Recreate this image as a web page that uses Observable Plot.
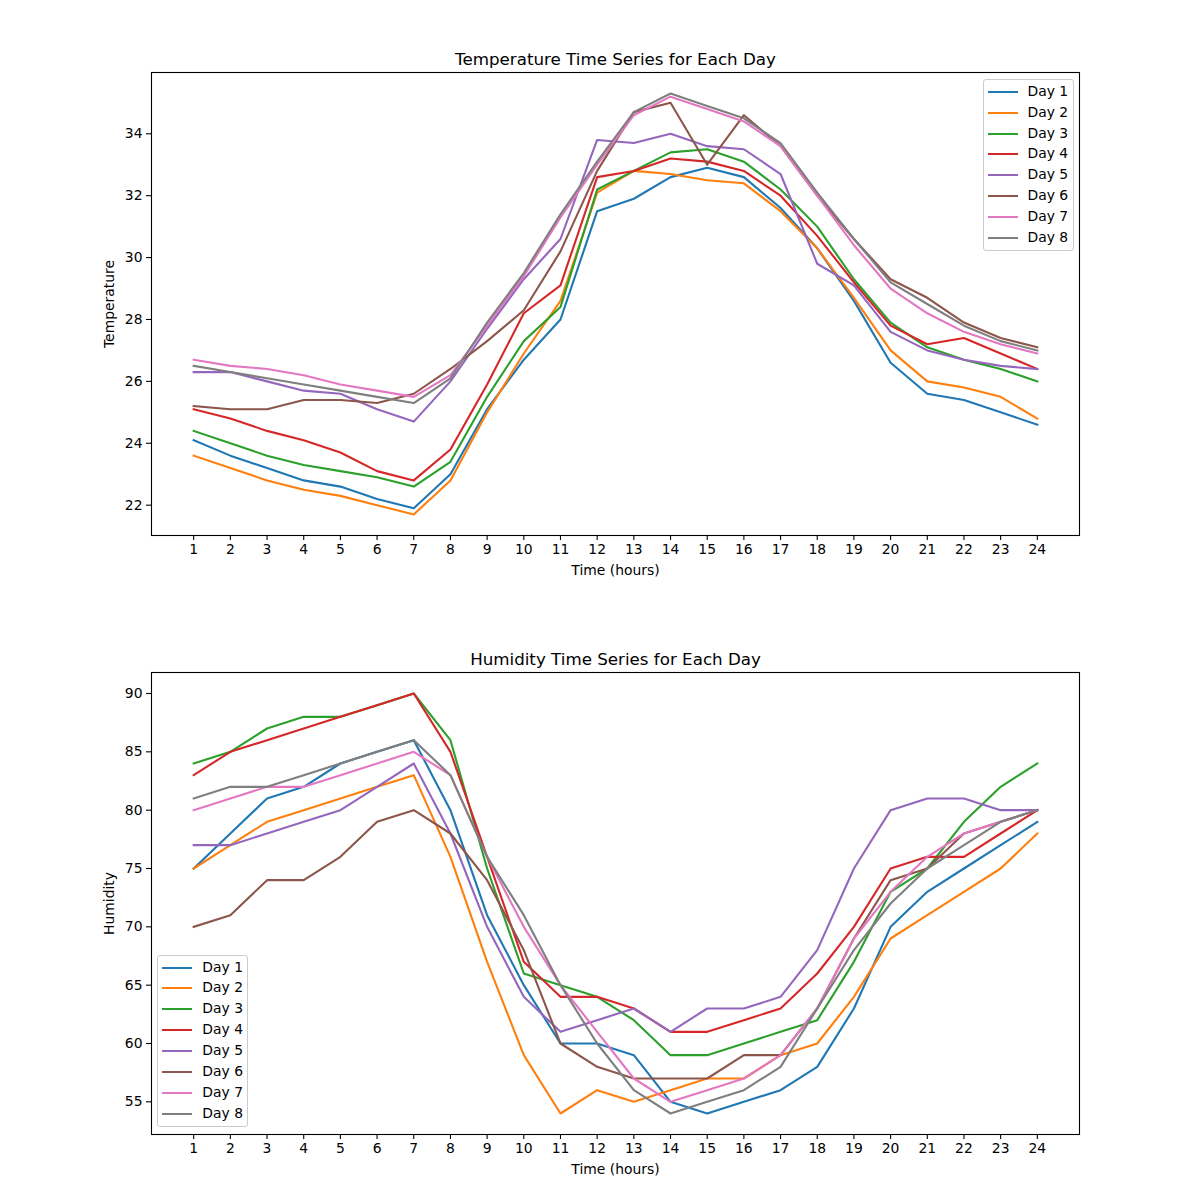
<!DOCTYPE html>
<html>
<head>
<meta charset="utf-8">
<script src="https://cdn.jsdelivr.net/npm/d3@7"></script>
<script src="https://cdn.jsdelivr.net/npm/@observablehq/plot@0.6"></script>
<style>
  html, body { margin: 0; padding: 0; background: white; }
  #wrap { position: relative; width: 1200px; height: 1200px; background: white; font-family: "DejaVu Sans", sans-serif; }
  .panel { position: absolute; left: 0; width: 1200px; height: 600px; }
  .legend { position: absolute; background: rgba(255,255,255,0.8); border: 1px solid #cccccc; border-radius: 3px; box-sizing: border-box; }
  .legend .row { position: absolute; left: 0; height: 20px; width: 100%; }
  .legend .swatch { position: absolute; left: 4px; width: 30px; height: 2px; top: 9px; }
  .legend .lab { position: absolute; left: 44px; top: -1px; font-size: 13.9px; line-height: 20px; color: #000; white-space: nowrap; }
</style>
</head>
<body>
<div id="wrap"></div>
<script>
// ---- data ----
const hours = [1,2,3,4,5,6,7,8,9,10,11,12,13,14,15,16,17,18,19,20,21,22,23,24];
const days = ["Day 1","Day 2","Day 3","Day 4","Day 5","Day 6","Day 7","Day 8"];
const colors = ["#1f77b4","#ff7f0e","#2ca02c","#d62728","#9467bd","#8c564b","#e377c2","#7f7f7f"];

const tempDay1 = [24.1,23.6,23.2,22.8,22.6,22.2,21.9,23.0,25.1,26.7,28.0,31.5,31.9,32.6,32.9,32.6,31.6,30.3,28.6,26.6,25.6,25.4,25.0,24.6];
const tempDay2 = [23.6,23.2,22.8,22.5,22.3,22.0,21.7,22.8,25.0,26.9,28.6,32.1,32.8,32.7,32.5,32.4,31.5,30.3,28.7,27.0,26.0,25.8,25.5,24.8];
const tempDay3 = [24.4,24.0,23.6,23.3,23.1,22.9,22.6,23.4,25.5,27.3,28.4,32.2,32.8,33.4,33.5,33.1,32.2,31.0,29.3,27.9,27.1,26.7,26.4,26.0];
const tempDay4 = [25.1,24.8,24.4,24.1,23.7,23.1,22.8,23.8,25.9,28.2,29.1,32.6,32.8,33.2,33.1,32.8,32.0,30.7,29.2,27.8,27.2,27.4,26.9,26.4];
const tempDay5 = [26.3,26.3,26.0,25.7,25.6,25.1,24.7,26.0,27.7,29.3,30.6,33.8,33.7,34.0,33.6,33.5,32.7,29.8,29.1,27.6,27.0,26.7,26.5,26.4];
const tempDay6 = [25.2,25.1,25.1,25.4,25.4,25.3,25.6,26.4,27.3,28.3,30.2,32.8,34.7,35.0,33.0,34.6,33.6,32.0,30.6,29.3,28.7,27.9,27.4,27.1];
const tempDay7 = [26.7,26.5,26.4,26.2,25.9,25.7,25.5,26.2,27.8,29.4,31.3,33.0,34.6,35.2,34.8,34.4,33.6,32.0,30.4,29.0,28.2,27.6,27.2,26.9];
const tempDay8 = [26.5,26.3,26.1,25.9,25.7,25.5,25.3,26.1,27.9,29.5,31.4,33.1,34.7,35.3,34.9,34.5,33.7,32.1,30.6,29.2,28.5,27.8,27.3,27.0];

const humDay1 = [75,78,81,82,84,85,86,80,71,65,60,60,59,55,54,55,56,58,63,70,73,75,77,79];
const humDay2 = [75,77,79,80,81,82,83,76,67,59,54,56,55,56,57,57,59,60,64,69,71,73,75,78];
const humDay3 = [84,85,87,88,88,89,90,86,75,66,65,64,62,59,59,60,61,62,67,73,75,79,82,84];
const humDay4 = [83,85,86,87,88,89,90,85,76,67,64,64,63,61,61,62,63,66,70,75,76,76,78,80];
const humDay5 = [77,77,78,79,80,82,84,78,70,64,61,62,63,61,63,63,64,68,75,80,81,81,80,80];
const humDay6 = [70,71,74,74,76,79,80,78,74,68,60,58,57,57,57,59,59,63,69,74,75,78,79,80];
const humDay7 = [80,81,82,82,83,84,85,83,76,70,65,61,57,55,56,57,59,63,69,73,76,78,79,80];
const humDay8 = [81,82,82,83,84,85,86,83,76,71,65,60,56,54,55,56,58,63,68,72,75,77,79,80];

const tempTicks = [22,24,26,28,30,32,34];
const humTicks = [55,60,65,70,75,80,85,90];

// ---- build long tables ----
function toRows(series) {
  const rows = [];
  series.forEach((vals, i) => vals.forEach((v, j) => rows.push({day: days[i], hour: hours[j], value: v})));
  return rows;
}
const tempRows = toRows([tempDay1,tempDay2,tempDay3,tempDay4,tempDay5,tempDay6,tempDay7,tempDay8]);
const humRows = toRows([humDay1,humDay2,humDay3,humDay4,humDay5,humDay6,humDay7,humDay8]);

function makePanel(rows, yDomain, yTicks, title, ylabel, marginBottom) {
  return Plot.plot({
    width: 1200,
    height: 600,
    marginTop: 72,
    marginBottom: marginBottom,
    marginLeft: 151,
    marginRight: 121,
    style: {fontFamily: "DejaVu Sans", fontSize: "13.9px", color: "black", background: "white", overflow: "visible"},
    x: {domain: [-0.15, 25.15]},
    y: {domain: yDomain},
    color: {domain: days, range: colors},
    marks: [
      Plot.line(rows, {x: "hour", y: "value", z: "day", stroke: "day", strokeWidth: 2.1, strokeLinejoin: "round", strokeLinecap: "square"}),
      Plot.frame({stroke: "black", strokeWidth: 1.1}),
      Plot.axisX({ticks: hours, tickFormat: d => String(d), tickSize: 5, tickPadding: 4, label: null, strokeWidth: 1.1}),
      Plot.axisY({ticks: yTicks, tickFormat: d => String(d), tickSize: 5, tickPadding: 4, label: null, strokeWidth: 1.1}),
      Plot.text([title], {frameAnchor: "top", dy: -8, lineAnchor: "bottom", textAnchor: "middle", fontSize: 16.7, fill: "black"}),
      Plot.text(["Time (hours)"], {frameAnchor: "bottom", dy: 35, lineAnchor: "middle", textAnchor: "middle", fontSize: 13.9, fill: "black"}),
      Plot.text([ylabel], {frameAnchor: "left", dx: -42, rotate: -90, lineAnchor: "middle", textAnchor: "middle", fontSize: 13.9, fill: "black"})
    ]
  });
}

const wrap = document.getElementById("wrap");

const topChart = makePanel(tempRows, [21.02, 35.98], tempTicks, "Temperature Time Series for Each Day", "Temperature", 65);
topChart.classList.add("panel");
topChart.style.top = "0px";
topChart.style.position = "absolute";
wrap.appendChild(topChart);

const bottomChart = makePanel(humRows, [52.2, 91.8], humTicks, "Humidity Time Series for Each Day", "Humidity", 66);
bottomChart.classList.add("panel");
bottomChart.style.top = "600px";
bottomChart.style.position = "absolute";
wrap.appendChild(bottomChart);

function makeLegend(left, topPx) {
  const box = document.createElement("div");
  box.className = "legend";
  box.style.left = left + "px";
  box.style.top = topPx + "px";
  box.style.width = "91px";
  box.style.height = "172px";
  days.forEach((d, i) => {
    const row = document.createElement("div");
    row.className = "row";
    row.style.top = (1.5 + i * 20.86) + "px";
    const sw = document.createElement("div");
    sw.className = "swatch";
    sw.style.background = colors[i];
    const lab = document.createElement("div");
    lab.className = "lab";
    lab.textContent = d;
    row.appendChild(sw);
    row.appendChild(lab);
    box.appendChild(row);
  });
  wrap.appendChild(box);
}
makeLegend(982.5, 79.3);
makeLegend(157.3, 955);
</script>
</body>
</html>
